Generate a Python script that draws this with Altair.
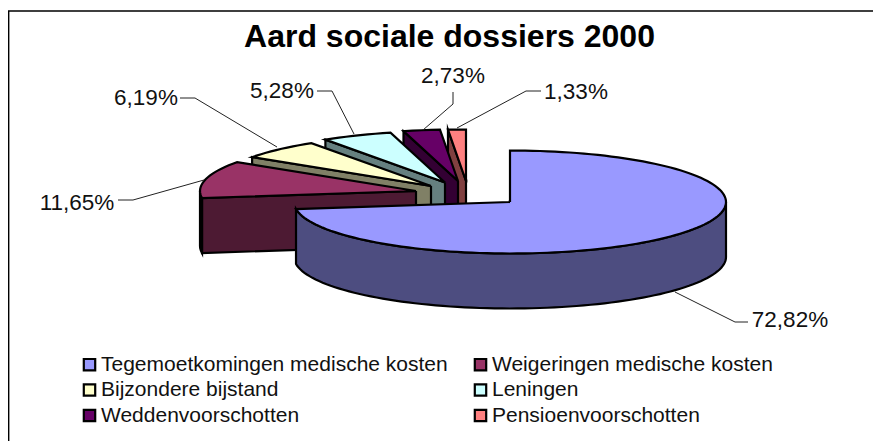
import math
import altair as alt
import pandas as pd

FONT = "Liberation Sans"
categories = ["Tegemoetkomingen medische kosten", "Weigeringen medische kosten",
              "Bijzondere bijstand", "Leningen", "Weddenvoorschotten", "Pensioenvoorschotten"]
values = [72.82, 11.65, 6.19, 5.28, 2.73, 1.33]
value_labels = ["72,82%", "11,65%", "6,19%", "5,28%", "2,73%", "1,33%"]
top_colors = ["#9999FF", "#993366", "#FFFFCC", "#CCFFFF", "#660066", "#FF8080"]
side_colors = ["#4D4D80", "#4D1A33", "#808066", "#668080", "#330033", "#804040"]

# layout (page pixels)
RX, RY, DEPTH = 216, 51.5, 55
apex_x = [510, 416, 431, 445, 458, 466]
apex_y = [202, 191, 186, 182.5, 181, 181]
label_x = [790, 77, 146, 282, 453, 576]
label_y = [320, 203, 98, 91, 76, 92]
leaders = [
    [(675, 292), (735, 322), (748, 322)],
    [(118, 200), (133, 200), (204, 180)],
    [(180, 98), (195, 98), (277, 147)],
    [(317, 91), (332, 91), (354, 134)],
    [(453, 92), (453, 104), (423, 130)],
    [(541, 91), (526, 91), (457, 128)],
]
frame_line = [(8.6, 441), (8.6, 11), (873, 11)]

x_scale = alt.Scale(domain=[8, 873], nice=False, zero=False)
y_scale = alt.Scale(domain=[441, 8], nice=False, zero=False)
X = alt.X("x:Q", scale=x_scale, axis=None)
Y = alt.Y("y:Q", scale=y_scale, axis=None)


def pt(i, deg, down=0):
    t = math.radians(deg)
    return (apex_x[i] + RX * math.sin(t), apex_y[i] - RY * math.cos(t) + down)


def poly(points, fill):
    pts = list(points) + [points[0]]
    df = pd.DataFrame({"x": [p[0] for p in pts], "y": [p[1] for p in pts], "o": range(len(pts))})
    return alt.Chart(df).mark_line(fill=fill, stroke="black", strokeWidth=2.2, strokeJoin="miter",
                                   strokeMiterLimit=6).encode(x=X, y=Y, order="o:Q")


def path(points, color="#222222", width=1):
    df = pd.DataFrame({"x": [p[0] for p in points], "y": [p[1] for p in points], "o": range(len(points))})
    return alt.Chart(df).mark_line(stroke=color, strokeWidth=width).encode(x=X, y=Y, order="o:Q")


starts, acc = [], 0.0
for v in values:
    starts.append(acc)
    acc += v * 3.6
ends = [s + v * 3.6 for s, v in zip(starts, values)]

layers = []
# legend carrier, hidden under the pie
legend_df = pd.DataFrame({"x": apex_x, "y": apex_y, "cat": categories})
layers.append(
    alt.Chart(legend_df).mark_square(size=1, stroke="black").encode(
        x=X, y=Y,
        color=alt.Color("cat:N", sort=categories,
                        scale=alt.Scale(domain=categories, range=top_colors),
                        legend=alt.Legend(title=None, orient="none", direction="horizontal",
                                          legendX=71, legendY=346, columns=2,
                                          symbolType="square", symbolSize=130, symbolStrokeColor="black",
                                          symbolStrokeWidth=2.2, symbolOpacity=1, labelFont=FONT,
                                          labelFontSize=21, labelColor="#111111", labelLimit=500,
                                          labelOffset=1, rowPadding=3.5, columnPadding=22, gridAlign="each",
                                          padding=0)),
    )
)

for i in [5, 4, 3, 2, 1, 0]:
    s, e = starts[i], ends[i]
    steps = max(2, int((e - s) / 2))
    arc = [pt(i, s + (e - s) * k / steps) for k in range(steps + 1)]
    apex = (apex_x[i], apex_y[i])
    apex_d = (apex_x[i], apex_y[i] + DEPTH)
    if i > 0:
        layers.append(poly([apex, pt(i, s), pt(i, s, DEPTH), apex_d], side_colors[i]))
    a, b = max(s, 90), min(e, 270)
    if b > a:
        n = max(2, int((b - a) / 2))
        upper = [pt(i, a + (b - a) * k / n) for k in range(n + 1)]
        lower = [pt(i, b - (b - a) * k / n, DEPTH) for k in range(n + 1)]
        layers.append(poly(upper + lower, side_colors[i]))
    layers.append(poly([apex] + arc, top_colors[i]))

for l in leaders:
    layers.append(path(l))

labels_df = pd.DataFrame({"x": label_x, "y": label_y, "t": value_labels})
layers.append(
    alt.Chart(labels_df).mark_text(font=FONT, fontSize=22.5, color="#111111", align="center", baseline="middle")
    .encode(x=X, y=Y, text="t:N")
)
layers.append(path(frame_line, "black", 1.6))

chart = alt.layer(*layers).resolve_scale(x="shared", y="shared").properties(
    width=865, height=433, padding=0,
    autosize=alt.AutoSizeParams(type="none"),
    background="white",
    title=alt.TitleParams("Aard sociale dossiers 2000", font=FONT, fontSize=32, fontWeight="bold",
                          color="black", anchor="middle", offset=-46, dx=9),
).configure_view(stroke=None)

chart.save("out.html", embed_options={"renderer": "svg", "actions": False})
